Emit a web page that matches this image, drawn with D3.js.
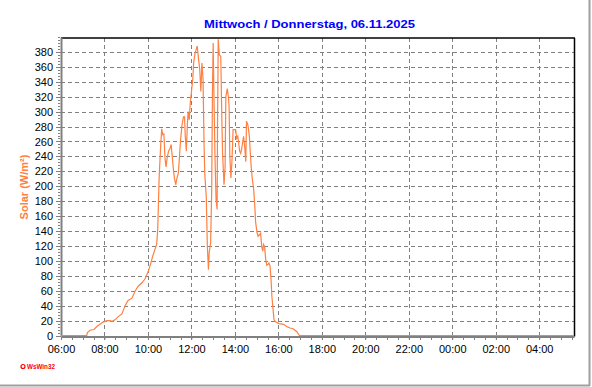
<!DOCTYPE html>
<html>
<head>
<meta charset="utf-8">
<script src="https://cdn.jsdelivr.net/npm/d3@7"></script>
<style>
  html, body { margin: 0; padding: 0; background: #fff; }
  svg { display: block; }
  text { font-family: "Liberation Sans", Arial, sans-serif; }
</style>
</head>
<body>
<div id="chart"></div>
<script>
// ---- data ----
const title = "Mittwoch / Donnerstag, 06.11.2025";
const yTitle = "Solar (W/m²)";
const xTickLabels = ["06:00","08:00","10:00","12:00","14:00","16:00","18:00","20:00","22:00","00:00","02:00","04:00"];
const yTickValues = [0,20,40,60,80,100,120,140,160,180,200,220,240,260,280,300,320,340,360,380];
const times = [
  "06:00","07:11","07:13","07:20","07:31","07:39","07:56","08:07","08:15","08:21","08:29","08:37","08:48","08:57",
  "09:05","09:16","09:24","09:33","09:44","09:52","10:01","10:08","10:13","10:19","10:24","10:27","10:29","10:31",
  "10:35","10:38","10:41","10:44","10:47","10:50","10:53","10:57","11:01","11:04","11:07","11:10","11:13","11:17",
  "11:19","11:24","11:27","11:30","11:34","11:38","11:41","11:43","11:46","11:49","11:51","11:54","11:57","12:01",
  "12:04","12:06","12:10","12:13","12:16","12:20","12:23","12:26","12:29","12:32","12:35","12:37","12:41","12:44",
  "12:47","12:49","12:53","12:56","12:58","13:00","13:02","13:05","13:08","13:11","13:12","13:14","13:17","13:21",
  "13:24","13:26","13:30","13:33","13:35","13:39","13:42","13:44","13:46","13:49","13:52","13:55","13:58","14:02",
  "14:05","14:08","14:10","14:13","14:16","14:19","14:21","14:24","14:27","14:30","14:32","14:36","14:40","14:42",
  "14:45","14:48","14:52","14:55","14:57","15:01","15:04","15:08","15:11","15:14","15:17","15:19","15:22","15:25",
  "15:28","15:31","15:34","15:37","15:40","15:42","15:45","15:48","15:53","16:02","16:14","16:23","16:32","16:41",
  "16:51","16:58","05:35"
];
const solar = [
  0,0,4,7,8,12,18,20,20,19,21,25,29,40,
  47,50,59,66,71,76,86,97,106,115,122,142,178,213,
  253,277,269,270,238,226,238,247,251,256,240,224,211,202,
  209,218,240,262,282,293,293,267,247,285,300,289,313,331,
  345,365,378,383,388,369,356,327,365,345,253,215,186,119,
  88,111,124,195,325,392,327,240,182,169,276,397,376,374,
  289,244,202,226,320,331,320,307,240,211,235,276,276,276,
  264,267,260,247,244,251,258,267,253,233,287,282,267,249,
  226,210,195,173,153,138,133,135,137,119,113,122,119,102,
  94,95,97,93,73,53,37,21,18,16,15,12,10,9,
  5,0,0
];
const xEnd = "05:36";

// ---- helpers ----
function toMin(s) {
  const [h, m] = s.split(":").map(Number);
  let t = (h - 6) * 60 + m;
  if (t < 0) t += 1440;
  return t;
}

const W = 592, H = 387;
const pL = 61, pR = 574, pT = 37, pB = 335.5;

const svg = d3.select("#chart").append("svg")
  .attr("width", W).attr("height", H);

svg.append("rect").attr("width", W).attr("height", H).attr("fill", "#fff");

// outer frame shadow
svg.append("line").attr("x1", 0).attr("x2", 590).attr("y1", 385.5).attr("y2", 385.5)
  .attr("stroke", "#a0a0a0").attr("stroke-width", 2);
svg.append("line").attr("x1", 589.5).attr("x2", 589.5).attr("y1", 0).attr("y2", 386)
  .attr("stroke", "#a0a0a0").attr("stroke-width", 2);

const x = d3.scaleLinear().domain([0, toMin(xEnd)]).range([pL, pR]);
const y = d3.scaleLinear().domain([0, 400]).range([pB, pT]);

// grid lines
const xGridVals = xTickLabels.map(toMin).filter(v => v > 0);
svg.append("g")
  .attr("transform", `translate(0,${pB})`)
  .call(d3.axisBottom(x).tickValues(xGridVals).tickSize(-(pB - pT)).tickFormat(""))
  .call(g => g.select(".domain").remove())
  .call(g => g.selectAll(".tick line").attr("stroke", "#808080").attr("stroke-dasharray", "4,3").attr("shape-rendering", "crispEdges"));

svg.append("g")
  .attr("transform", `translate(${pL},0)`)
  .call(d3.axisLeft(y).tickValues(yTickValues.filter(v => v > 0)).tickSize(-(pR - pL)).tickFormat(""))
  .call(g => g.select(".domain").remove())
  .call(g => g.selectAll(".tick line").attr("stroke", "#808080").attr("stroke-dasharray", "4,3").attr("shape-rendering", "crispEdges"));

// top and right border
svg.append("line").attr("x1", pL).attr("x2", pR + 1).attr("y1", 38).attr("y2", 38)
  .attr("stroke", "#000").attr("stroke-width", 1.5);
svg.append("line").attr("x1", pR + 0.5).attr("x2", pR + 0.5).attr("y1", 38).attr("y2", pB + 1)
  .attr("stroke", "#000").attr("stroke-width", 1.5);

// minor ticks y
const yMinor = d3.range(0, 401, 4);
svg.append("g")
  .attr("transform", `translate(${pL - 1},0)`)
  .call(d3.axisLeft(y).tickValues(yMinor).tickSize(2).tickFormat("").tickSizeOuter(0))
  .call(g => g.select(".domain").remove())
  .call(g => g.selectAll(".tick line").attr("stroke", "#808080").attr("shape-rendering", "crispEdges"));

// y axis
svg.append("g")
  .attr("transform", `translate(${pL},0)`)
  .call(d3.axisLeft(y).tickValues(yTickValues).tickSize(5).tickPadding(3).tickSizeOuter(0))
  .call(g => g.select(".domain").attr("stroke", "#808080").attr("stroke-width", 2))
  .call(g => g.selectAll(".tick line").attr("stroke", "#808080").attr("shape-rendering", "crispEdges"))
  .call(g => g.selectAll(".tick text").attr("font-size", 11).attr("fill", "#000")
    .attr("font-family", '"Liberation Sans", Arial, sans-serif'));

// x axis minor ticks every 30 min
const xMinor = d3.range(0, toMin(xEnd), 30);
svg.append("g")
  .attr("transform", `translate(0,${pB + 1})`)
  .call(d3.axisBottom(x).tickValues(xMinor).tickSize(3).tickFormat("").tickSizeOuter(0))
  .call(g => g.select(".domain").remove())
  .call(g => g.selectAll(".tick line").attr("stroke", "#808080").attr("shape-rendering", "crispEdges"));

// x axis
svg.append("g")
  .attr("transform", `translate(0,${pB + 1})`)
  .call(d3.axisBottom(x).tickValues(xTickLabels.map(toMin)).tickFormat((d, i) => xTickLabels[i]).tickSize(3).tickPadding(6).tickSizeOuter(0))
  .call(g => g.select(".domain").attr("stroke", "#808080").attr("stroke-width", 2))
  .call(g => g.selectAll(".tick line").attr("stroke", "#808080"))
  .call(g => g.selectAll(".tick text").attr("font-size", 11).attr("fill", "#000")
    .attr("font-family", '"Liberation Sans", Arial, sans-serif'));

// data line
const data = times.map((t, i) => ({ t: toMin(t), v: solar[i] }));
const line = d3.line().x(d => x(d.t)).y(d => y(d.v)).curve(d3.curveLinear);
svg.append("path").datum(data)
  .attr("d", line)
  .attr("fill", "none")
  .attr("stroke", "#ff8040")
  .attr("stroke-width", 1.2)
  .attr("stroke-linejoin", "miter");

// title
svg.append("text")
  .attr("x", 204).attr("y", 28)
  .attr("text-anchor", "start")
  .attr("font-size", 11).attr("font-weight", "bold")
  .attr("font-family", '"DejaVu Sans", Verdana, sans-serif')
  .attr("textLength", 211).attr("lengthAdjust", "spacingAndGlyphs")
  .attr("fill", "#0000ff")
  .text(title);

// y title
svg.append("text")
  .attr("transform", "translate(28,187) rotate(-90)")
  .attr("text-anchor", "middle")
  .attr("font-size", 11).attr("font-weight", "bold")
  .attr("fill", "#ff8040")
  .text(yTitle);

// WsWin32 logo
svg.append("circle").attr("cx", 23).attr("cy", 366.5).attr("r", 2)
  .attr("fill", "none").attr("stroke", "#ff0000").attr("stroke-width", 1.2);
svg.append("text")
  .attr("x", 27).attr("y", 369)
  .attr("font-size", 7).attr("font-weight", "bold")
  .attr("textLength", 28).attr("lengthAdjust", "spacingAndGlyphs")
  .attr("fill", "#ff0000")
  .text("WsWin32");
</script>
</body>
</html>
